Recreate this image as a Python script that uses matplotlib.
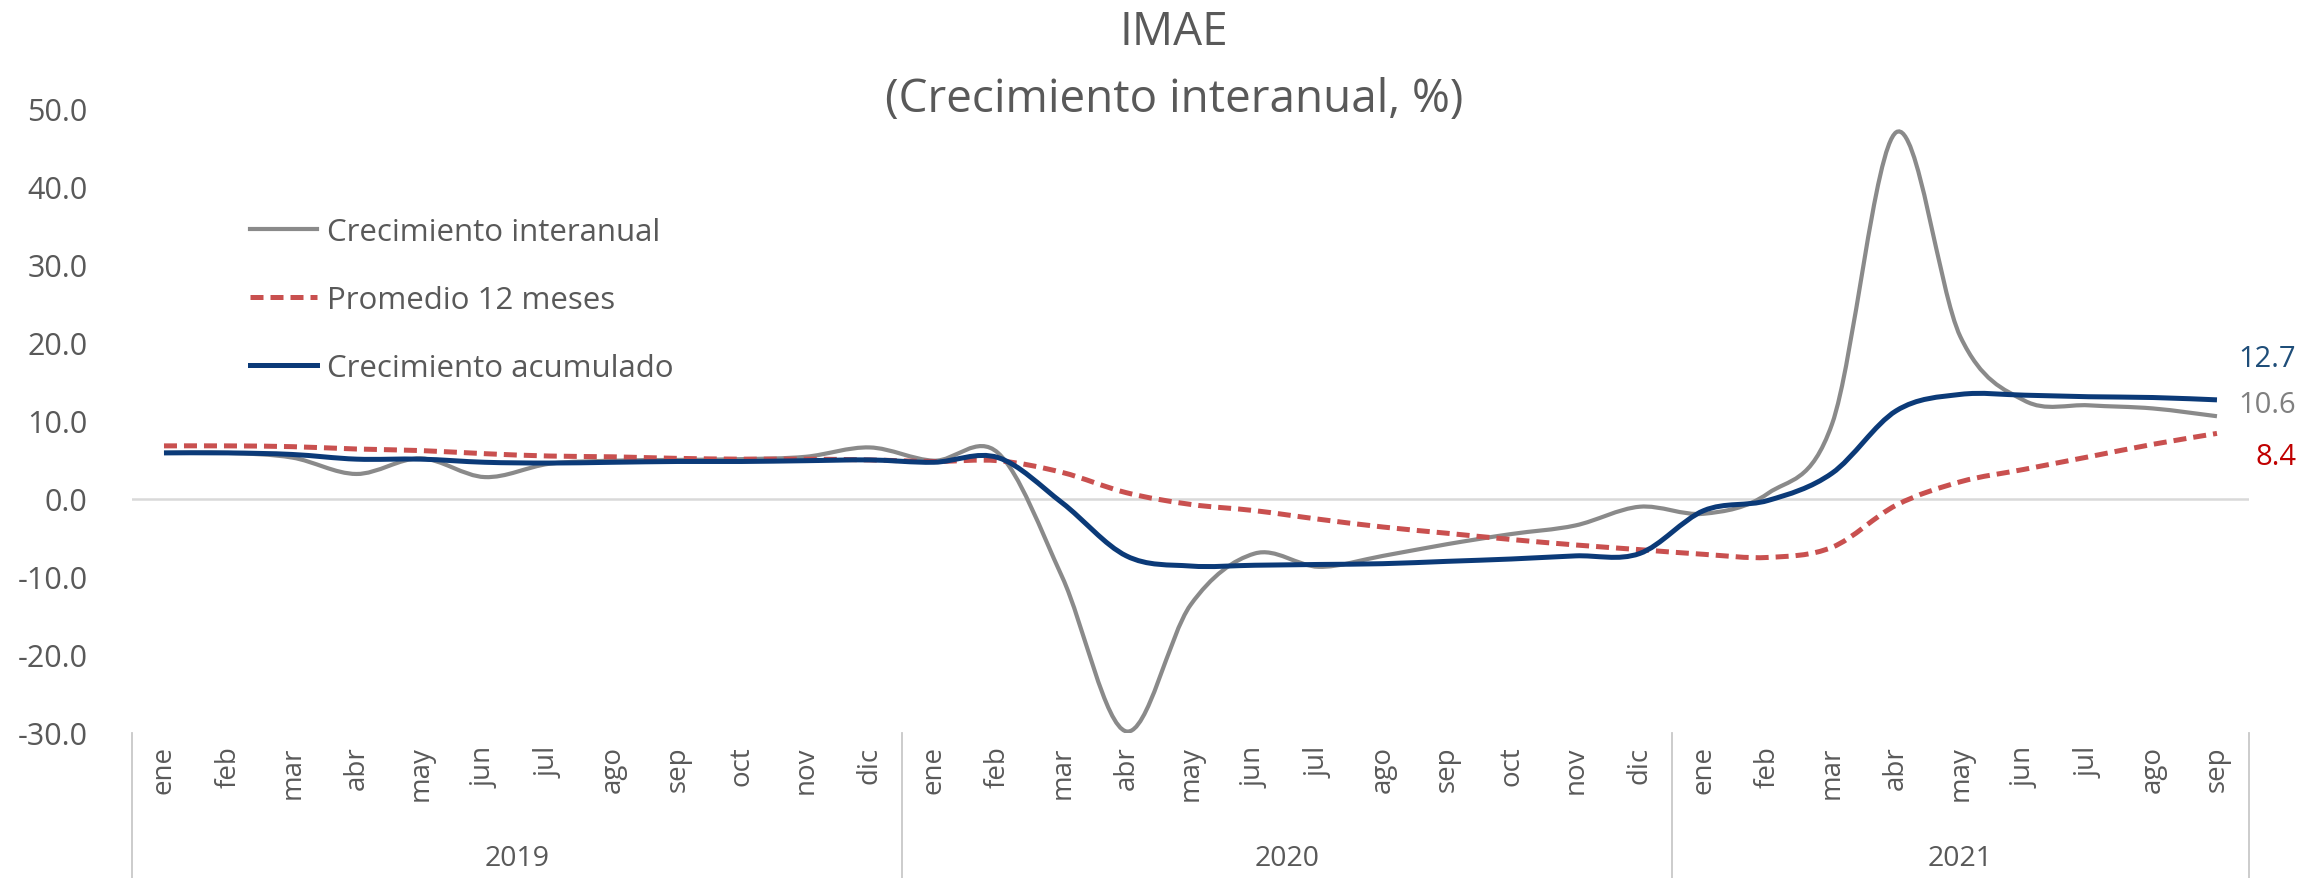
"""
IMAE - crecimiento interanual, promedio 12 meses y acumulado (2019-2021).
Excel-style smoothed lines, two-level category axis (month / year).
"""

import numpy as np
import matplotlib
matplotlib.use('Agg')
import matplotlib.pyplot as plt
from matplotlib.path import Path
from matplotlib.patches import PathPatch
from matplotlib.lines import Line2D
import matplotlib.transforms as mtransforms

plt.rcParams['font.family'] = ['Open Sans', 'DejaVu Sans']

MONTHS = ['ene', 'feb', 'mar', 'abr', 'may', 'jun', 'jul', 'ago', 'sep', 'oct', 'nov', 'dic']
YEARS = ['2019', '2020', '2021']
MONTHS_PER_YEAR = [12, 12, 9]

interanual = [5.9, 5.9, 5.3, 3.2, 5.2, 2.8, 4.5, 4.9, 5.0, 5.1, 5.4, 6.6,
              4.9, 5.9, -10.0, -29.8, -13.6, -7.0, -8.7, -7.3, -5.8, -4.5, -3.4, -1.0,
              -1.9, 0.7, 9.6, 47.0, 20.8, 12.6, 12.0, 11.6, 10.6]

promedio12 = [6.8, 6.8, 6.7, 6.4, 6.2, 5.8, 5.5, 5.4, 5.2, 5.1, 5.1, 5.0,
              4.8, 4.9, 3.4, 0.8, -0.7, -1.5, -2.6, -3.6, -4.4, -5.2, -5.9, -6.5,
              -7.1, -7.5, -6.2, -0.8, 2.2, 3.8, 5.4, 7.0, 8.4]

acumulado = [5.9, 5.9, 5.7, 5.1, 5.1, 4.7, 4.6, 4.7, 4.8, 4.8, 4.9, 5.0,
             4.7, 5.3, -0.5, -7.3, -8.6, -8.5, -8.4, -8.3, -8.0, -7.7, -7.3, -7.0,
             -1.5, -0.2, 3.3, 11.3, 13.4, 13.3, 13.1, 13.0, 12.7]

month_labels = []
for n in MONTHS_PER_YEAR:
    month_labels += MONTHS[:n]

C_GRAY = '#8a8a8a'
C_RED = '#c9504f'
C_BLUE = '#0b3a78'
C_TEXT = '#595959'
FS = 21


def smooth_path(x, y):
    # Catmull-Rom style bezier, like Excel "smoothed line"
    n = len(x)
    verts = [(x[0], y[0])]
    codes = [Path.MOVETO]
    for i in range(n - 1):
        a = i - 1 if i > 0 else i
        d = i + 2 if i + 2 < n else i + 1
        c1 = (x[i] + (x[i + 1] - x[a]) / 6, y[i] + (y[i + 1] - y[a]) / 6)
        c2 = (x[i + 1] - (x[d] - x[i]) / 6, y[i + 1] - (y[d] - y[i]) / 6)
        verts += [c1, c2, (x[i + 1], y[i + 1])]
        codes += [Path.CURVE4] * 3
    return Path(verts, codes)


fig = plt.figure(figsize=(23.02, 8.79), dpi=100)
ax = fig.add_axes([0.0573, 0.165, 0.9197, 0.710])

x = np.arange(len(month_labels))
ax.set_xlim(-0.5, len(month_labels) - 0.5)
ax.set_ylim(-30, 50)

ax.axhline(0, color='#d9d9d9', lw=1.8, zorder=1)

series = [
    (interanual, C_GRAY, 3.0, '-', 'Crecimiento interanual'),
    (promedio12, C_RED, 3.6, (0, (2.6, 1.4)), 'Promedio 12 meses'),
    (acumulado, C_BLUE, 3.6, '-', 'Crecimiento acumulado'),
]
handles = []
for vals, col, lw, ls, lab in series:
    p = PathPatch(smooth_path(x, np.array(vals, dtype=float)), fill=False,
                  edgecolor=col, lw=lw, linestyle=ls, capstyle='butt', zorder=3)
    ax.add_patch(p)
    handles.append(Line2D([], [], color=col, lw=lw, linestyle=ls, label=lab))

# end labels, right aligned near the figure edge
last = len(month_labels) - 1
ax.annotate(f'{acumulado[-1]:.1f}', (last, acumulado[-1]), xytext=(57, 30),
            textcoords='offset points', color='#1f4e79', fontsize=FS,
            ha='right', va='center', annotation_clip=False)
ax.annotate(f'{interanual[-1]:.1f}', (last, interanual[-1]), xytext=(57, 8.5),
            textcoords='offset points', color='#808080', fontsize=FS,
            ha='right', va='center', annotation_clip=False)
ax.annotate(f'{promedio12[-1]:.1f}', (last, promedio12[-1]), xytext=(57, -16.5),
            textcoords='offset points', color='#c00000', fontsize=FS,
            ha='right', va='center', annotation_clip=False)

# y axis
ax.set_yticks(np.arange(-30, 51, 10))
ax.set_yticklabels([f'{v:.1f}' for v in np.arange(-30, 51, 10)])
ax.tick_params(axis='y', length=0, pad=32, labelsize=22, labelcolor=C_TEXT)

# x axis: months
ax.set_xticks(x)
ax.set_xticklabels(month_labels, rotation=90)
ax.tick_params(axis='x', length=0, pad=9, labelsize=20, labelcolor=C_TEXT)

for s in ax.spines.values():
    s.set_visible(False)

# year labels + separators
trans = mtransforms.blended_transform_factory(ax.transData, ax.transAxes)
start = 0
bounds = [-0.5]
for yr, n in zip(YEARS, MONTHS_PER_YEAR):
    mid = start + (n - 1) / 2
    ax.text(mid, -0.20, yr, transform=trans, ha='center', va='center',
            fontsize=20.5, color=C_TEXT)
    start += n
    bounds.append(start - 0.5)
for b in bounds:
    ax.add_line(Line2D([b, b], [0, -0.235], transform=trans, color='#c8c8c8',
                       lw=1.3, clip_on=False))

leg = ax.legend(handles=handles, loc='upper left', bbox_to_anchor=(0.1086, 0.752),
                bbox_transform=fig.transFigure, frameon=False, fontsize=22.5,
                handlelength=2.15, handletextpad=0.33, labelspacing=1.22,
                borderpad=0, borderaxespad=0)
for t in leg.get_texts():
    t.set_color(C_TEXT)

fig.text(0.51, 0.963, 'IMAE', ha='center', va='center', fontsize=33, color=C_TEXT)
fig.text(0.51, 0.886, '(Crecimiento interanual, %)', ha='center', va='center',
         fontsize=33, color=C_TEXT)

fig.savefig('out.png', dpi=100)
